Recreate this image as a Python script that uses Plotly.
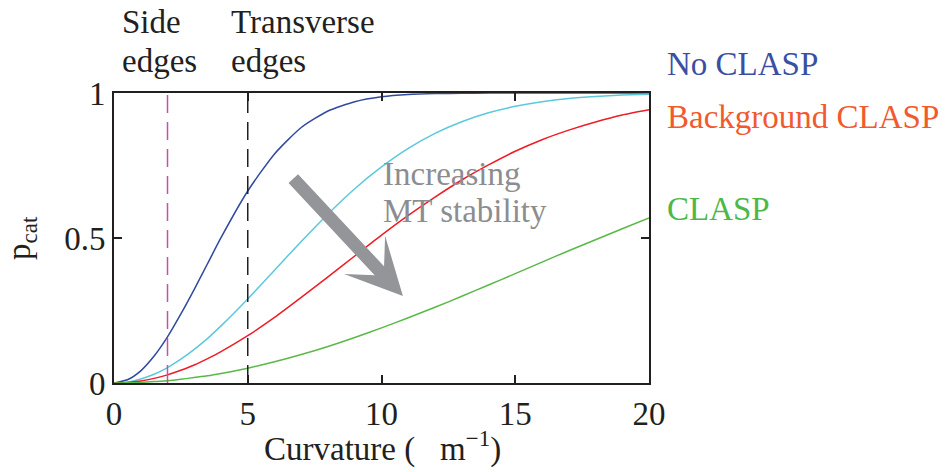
import plotly.graph_objects as go

curvature = [0, 0.5, 1, 1.5, 2, 2.5, 3, 3.5, 4, 5, 6, 7, 8, 9, 10, 11, 12, 13, 14, 15, 16, 17, 18, 19, 20]
p_no_clasp = [0, 0.011, 0.042, 0.093, 0.159, 0.238, 0.323, 0.412, 0.501, 0.662, 0.790, 0.881, 0.938,
              0.970, 0.987, 0.995, 0.998, 0.999, 1.0, 1.0, 1.0, 1.0, 1.0, 1.0, 1.0]
p_intermediate = [0, 0.003, 0.014, 0.030, 0.053, 0.082, 0.116, 0.154, 0.197, 0.290, 0.389, 0.488, 0.583,
                  0.670, 0.745, 0.809, 0.861, 0.901, 0.932, 0.954, 0.970, 0.981, 0.988, 0.993, 0.996]
p_background = [0, 0.002, 0.007, 0.016, 0.028, 0.044, 0.062, 0.084, 0.108, 0.163, 0.226, 0.295, 0.366,
                0.438, 0.510, 0.578, 0.641, 0.700, 0.752, 0.799, 0.839, 0.872, 0.900, 0.924, 0.942]
p_clasp = [0, 0.001, 0.002, 0.005, 0.008, 0.013, 0.019, 0.025, 0.033, 0.051, 0.073, 0.098, 0.126,
           0.157, 0.190, 0.225, 0.261, 0.299, 0.338, 0.377, 0.417, 0.456, 0.494, 0.532, 0.569]

side_edge = 2
transverse_edge = 5
x_ticks = [0, 5, 10, 15, 20]
y_ticks = [0, 0.5, 1]
y_tick_text = ["0", "0.5", "1"]

FONT = "Liberation Serif"
FS = 33
W, H = 947, 472
L, R, T, B = 114, 298, 93, 89

def px(x):
    return (x - L) / (W - L - R)

def py(y):
    return (H - B - y) / (H - T - B)

fig = go.Figure()
series = [
    (p_no_clasp, "#2f4a9e"),
    (p_intermediate, "#5cc8dc"),
    (p_background, "#ee1c24"),
    (p_clasp, "#5ab848"),
]
for ys, c in series:
    fig.add_trace(go.Scatter(x=curvature, y=ys, mode="lines", line=dict(color=c, width=1.5, shape="spline", smoothing=0.6),
                             showlegend=False, hoverinfo="skip"))

for xe, c in [(side_edge, "#c552a6"), (transverse_edge, "#231f20")]:
    fig.add_trace(go.Scatter(x=[xe, xe], y=[0, 1], mode="lines",
                             line=dict(color=c, width=1.5, dash="18px,9px"),
                             showlegend=False, hoverinfo="skip"))

axis_common = dict(showline=True, linecolor="#231f20", linewidth=2, mirror="ticks",
                   ticks="inside", ticklen=8, tickcolor="#231f20", tickwidth=1.5,
                   showgrid=False, zeroline=False,
                   tickfont=dict(family=FONT, size=FS, color="#231f20"))

fig.update_xaxes(range=[0, 20], tickvals=x_ticks, **axis_common)
fig.update_yaxes(range=[0, 1], tickvals=y_ticks, ticktext=y_tick_text, **axis_common)

ann = []
def text(s, x, y, color="#231f20", xanchor="left", size=FS, angle=0):
    ann.append(dict(text=s, x=px(x), y=py(y), xref="paper", yref="paper", showarrow=False,
                    xanchor=xanchor, yanchor="middle", textangle=angle,
                    font=dict(family=FONT, size=size, color=color)))

text("Side", 120, 22)
text("edges", 120, 61)
text("Transverse", 229, 22)
text("edges", 229, 61)
text("Increasing", 381, 174, color="#8c8d90")
text("MT stability", 381, 211, color="#8c8d90")
text("No CLASP", 665, 64, color="#3a4fa2")
text("Background CLASP", 665, 117, color="#f15a2e")
text("CLASP", 665, 209, color="#4db848")
text("Curvature (   m<sup>−1</sup>)", 382, 446, xanchor="center")
text("p<sub>cat</sub>", 21, 238, xanchor="center", angle=-90)

ann.append(dict(x=10.8, y=0.30, ax=6.65, ay=0.71, xref="x", yref="y", axref="x", ayref="y",
                showarrow=True, arrowhead=3, arrowsize=0.72, arrowwidth=13, arrowcolor="#939598", text=""))

fig.update_layout(width=W, height=H, margin=dict(l=L, r=R, t=T, b=B),
                  plot_bgcolor="white", paper_bgcolor="white", annotations=ann)

fig.write_html("out.html", config={"displayModeBar": False},
               post_script="document.body.style.margin='0';")
